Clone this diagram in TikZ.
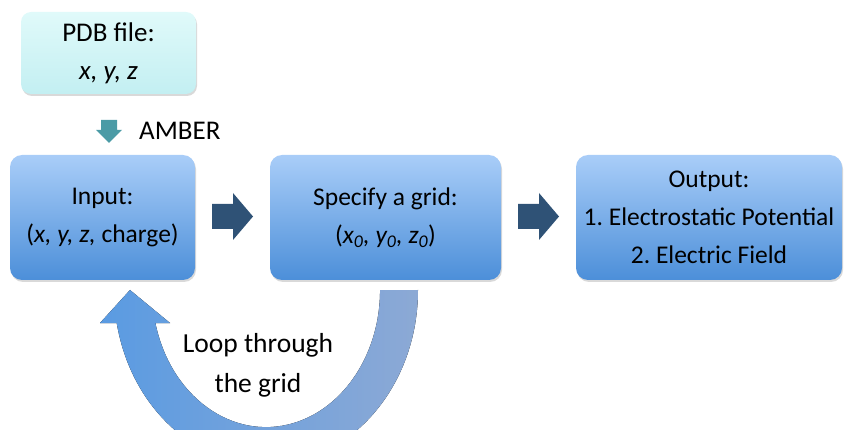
\documentclass[tikz,border=0pt]{standalone}
\usepackage{fontspec}
\setmainfont{Carlito}
\usetikzlibrary{shadows,calc}
\frenchspacing

\definecolor{boxtop}{HTML}{A9CDF8}
\definecolor{boxbot}{HTML}{4C8FD9}
\definecolor{pdbtop}{HTML}{E0FAFA}
\definecolor{pdbbot}{HTML}{C3EFF2}
\definecolor{arrowdark}{HTML}{2F5276}
\definecolor{amberteal}{HTML}{4B9BA6}
\definecolor{loopleft}{HTML}{5A9BE2}
\definecolor{loopright}{HTML}{8CA9D5}

\tikzset{
  stagebox/.style={rounded corners=12pt, top color=boxtop, bottom color=boxbot,
    minimum height=125pt, align=center, inner sep=0pt,
    drop shadow={opacity=0.3, shadow xshift=1pt, shadow yshift=-2pt}},
  pdbbox/.style={rounded corners=10pt, top color=pdbtop, bottom color=pdbbot,
    minimum width=175pt, minimum height=82pt, align=center, inner sep=0pt,
    font=\fontsize{27}{38}\selectfont,
    drop shadow={opacity=0.3, shadow xshift=1pt, shadow yshift=-2pt}},
  blockarrow/.pic={
    \fill[arrowdark] (-20.5,-12.5) -- (0.5,-12.5) -- (0.5,-23.5) -- (20.5,0)
      -- (0.5,23.5) -- (0.5,12.5) -- (-20.5,12.5) -- cycle;
  }
}

\begin{document}
\begin{tikzpicture}[x=1pt, y=1pt, font=\fontsize{25.5}{38}\selectfont, line join=round]
    \clip (0,0) rectangle (844,429);

    % PDB-Datei und AMBER
    \node[pdbbox] (pdb) at (108.5,376) {PDB file:\\\textit{x, y, z}};
    \coordinate (amberarrow) at (109,297.5);
    \fill[amberteal] ($(amberarrow)+(-8,11.5)$) -- ($(amberarrow)+(8,11.5)$)
      -- ($(amberarrow)+(8,1.5)$) -- ($(amberarrow)+(13,1.5)$) -- ($(amberarrow)+(0,-11.5)$)
      -- ($(amberarrow)+(-13,1.5)$) -- ($(amberarrow)+(-8,1.5)$) -- cycle;
    \node[anchor=west, inner sep=0pt, font=\fontsize{27}{38}\selectfont] (amber) at (139,298) {AMBER};

    % Die drei Schritte
    \node[stagebox, minimum width=185pt] (input) at (102.5,211.5) {Input:\\(\textit{x, y, z,} charge)};
    \node[stagebox, minimum width=231pt] (grid) at (385.5,211.5) {Specify a grid:\\(\textit{x\textsubscript{0}, y\textsubscript{0}, z\textsubscript{0}})};
    \node[stagebox, minimum width=266pt] (output) at (709,211.5) {Output:\\1. Electrostatic Potential\\2. Electric Field};

    % Pfeile dazwischen
    \coordinate (step1) at ($(input.east)!0.5!(grid.west)+(0,1)$);
    \coordinate (step2) at ($(grid.east)!0.5!(output.west)+(0,1)$);
    \pic at (step1) {blockarrow};
    \pic at (step2) {blockarrow};

    % Schleife ueber das Gitter
    \fill[left color=loopleft, right color=loopright]
      (418,139) arc[start angle=0, end angle=-169.1, x radius=152, y radius=175]
      -- (100,106) -- (130,139) -- (170,106) -- (155.4,106)
      arc[start angle=-166.1, end angle=0, x radius=114, y radius=137] -- cycle;
    \node[align=center, inner sep=0pt, font=\fontsize{27.5}{40}\selectfont] (looptext) at (258,64) {Loop through\\the grid};
\end{tikzpicture}
\end{document}
